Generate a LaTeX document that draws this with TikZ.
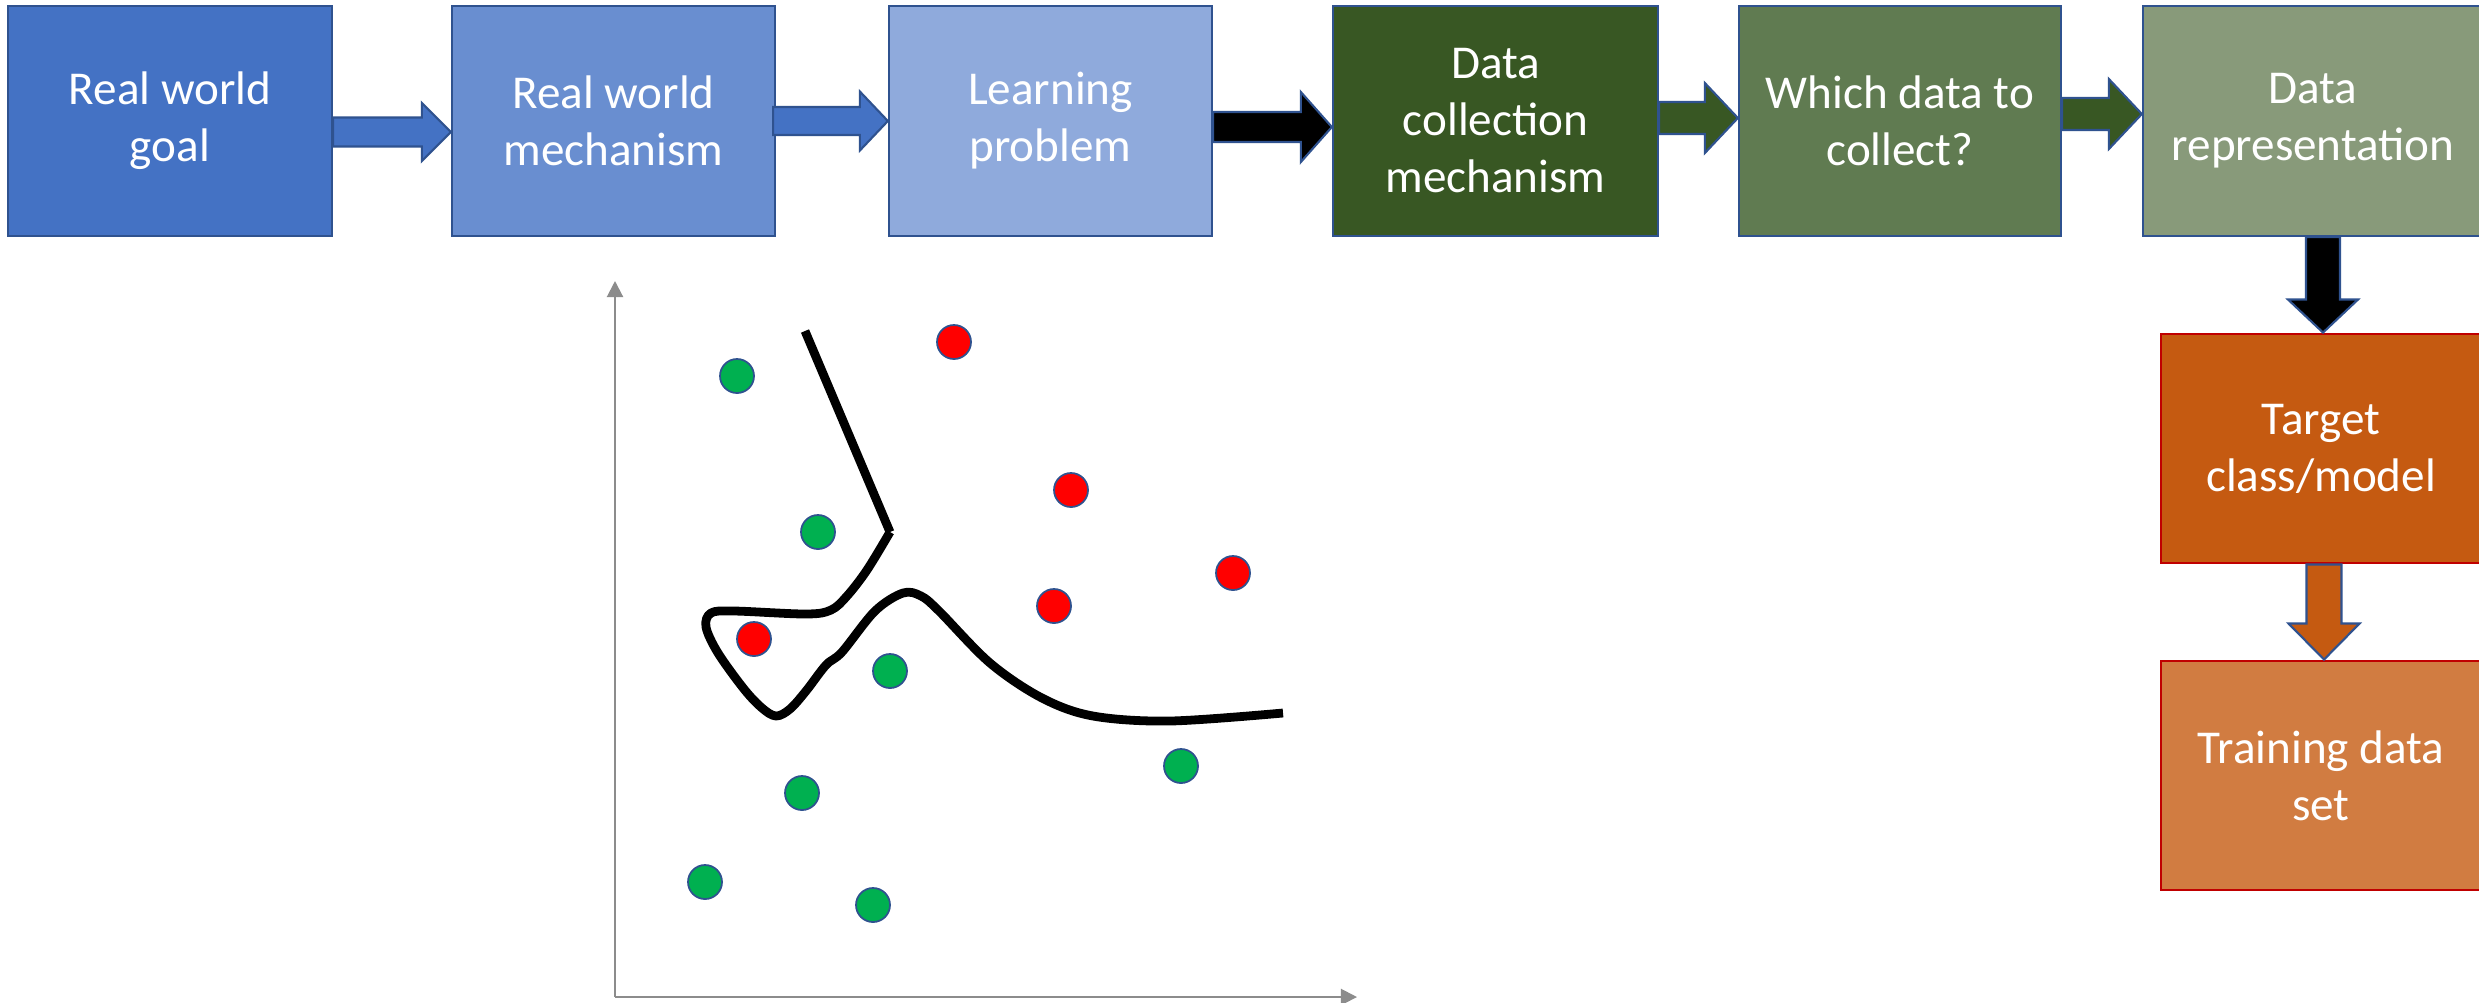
\documentclass[tikz,border=0pt]{standalone}
\usepackage{fontspec}
\setmainfont{Carlito}
\usetikzlibrary{calc,arrows.meta}

\definecolor{boxline}{HTML}{2F528F}
\definecolor{goalblue}{HTML}{4472C4}
\definecolor{mechblue}{HTML}{698ED0}
\definecolor{probblue}{HTML}{8FAADC}
\definecolor{collgreen}{HTML}{385723}
\definecolor{whichgreen}{HTML}{607B51}
\definecolor{reprgreen}{HTML}{889A7A}
\definecolor{targetorange}{HTML}{C55A11}
\definecolor{trainorange}{HTML}{D17C41}
\definecolor{redline}{HTML}{C00000}
\definecolor{axisgray}{HTML}{8C8C8C}
\definecolor{ptgreen}{HTML}{00B050}
\definecolor{ptred}{HTML}{FF0000}

\newcommand{\boxfont}{\fontsize{13.4pt}{16.2pt}\selectfont}

% block arrow: style, from, to, shaft half width, head half width, head length
\newcommand{\blockarrow}[6]{%
  \coordinate (ba-s) at #2;
  \coordinate (ba-e) at #3;
  \coordinate (ba-h) at ($(ba-e)!#6!(ba-s)$);
  \filldraw[#1] ($(ba-s)!#4!90:(ba-e)$) -- ($(ba-h)!#4!90:(ba-e)$)
    -- ($(ba-h)!#5!90:(ba-e)$) -- (ba-e) -- ($(ba-h)!#5!-90:(ba-e)$)
    -- ($(ba-h)!#4!-90:(ba-e)$) -- ($(ba-s)!#4!-90:(ba-e)$) -- cycle;
}

\tikzset{
  box/.style={draw=boxline, line width=0.6pt, text=white, align=center,
    minimum height=2.30cm, inner sep=0pt, font=\boxfont},
  obox/.style={box, draw=redline, line width=0.8pt, minimum height=2.29cm},
  barrow/.style={draw=boxline, line width=0.6pt, line join=miter, fill=#1},
  axis/.style={draw=axisgray, line width=0.6pt, -{Triangle[length=4.6pt,width=4.6pt]}},
  boundary/.style={line width=2.5pt, black},
  dot/.style={draw=boxline, line width=0.5pt, fill=#1},
}

\begin{document}
\begin{tikzpicture}[x=0.01cm, y=-0.01cm]
  \clip (0,0) rectangle (2479,1002);
  \fill[white] (0,0) rectangle (2479,1002);

  % pipeline
  \node[box, fill=goalblue, minimum width=3.24cm] (b1) at (170,121) {Real world\\goal};
  \node[box, fill=mechblue, minimum width=3.23cm] (b2) at (613.5,121) {Real world\\mechanism};
  \node[box, fill=probblue, minimum width=3.23cm] (b3) at (1050.5,121) {Learning\\problem};
  \node[box, fill=collgreen, minimum width=3.25cm] (b4) at (1495.5,121) {Data\\collection\\mechanism};
  \node[box, fill=whichgreen, minimum width=3.22cm] (b5) at (1900,121) {Which data to\\collect?};
  \node[box, fill=reprgreen, minimum width=3.40cm] (b6) at (2313,121) {Data\\representation};
  \node[obox, fill=targetorange, minimum width=3.20cm] (tgt) at (2321,448.5) {Target\\class/model};
  \node[obox, fill=trainorange, minimum width=3.20cm] (trn) at (2321,775.5) {Training data\\set};

  \blockarrow{barrow=goalblue}{($(b1.east)+(0,11)$)}{($(b2.west)+(0,11)$)}{0.145cm}{0.29cm}{0.29cm}
  \blockarrow{barrow=goalblue}{($(b2.east)+(-3,0)$)}{(b3.west)}{0.14cm}{0.295cm}{0.28cm}
  \blockarrow{barrow=black}{($(b3.east)+(0,6)$)}{($(b4.west)+(0,6)$)}{0.15cm}{0.35cm}{0.31cm}
  \blockarrow{barrow=collgreen}{($(b4.east)+(0,-3)$)}{($(b5.west)+(0,-3)$)}{0.16cm}{0.35cm}{0.33cm}
  \blockarrow{barrow=collgreen}{($(b5.east)+(0,-7)$)}{($(b6.west)+(0,-7)$)}{0.16cm}{0.35cm}{0.33cm}
  \blockarrow{barrow=black}{($(b6.south)+(10,0)$)}{($(tgt.north)+(2,0)$)}{0.17cm}{0.35cm}{0.33cm}
  \blockarrow{barrow=targetorange}{($(tgt.south)+(3,0)$)}{($(trn.north)+(3,0)$)}{0.175cm}{0.355cm}{0.36cm}

  % feature space
  \coordinate (org) at (615,997);
  \coordinate (ytop) at (615,281);
  \coordinate (xend) at (1357,997);
  \draw[axis] (org) -- (ytop);
  \draw[axis] (org) -- (xend);

  \draw[boundary] (805,331) -- (890,532);
  \draw[boundary, line join=round] plot[smooth, tension=0.55] coordinates {
    (890,532) (867,570) (847,596) (831,610) (806,614) (734,611) (711,613)
    (706,627) (718,653) (744,689) (762,708) (776,716) (790,709) (806,691)
    (826,665) (842,652) (875,611) (903,593) (921,596) (939,611) (990,663)
    (1042,698) (1093,716) (1170,721) (1283,713)};

  \foreach \px/\py in {737/376, 818/532, 890/671, 802/793, 705/882, 873/905, 1181/766}
    \filldraw[dot=ptgreen] (\px,\py) circle (17);
  \foreach \px/\py in {954/342, 1071/490, 1054/606, 1233/573, 754/639}
    \filldraw[dot=ptred] (\px,\py) circle (17);
\end{tikzpicture}
\end{document}
